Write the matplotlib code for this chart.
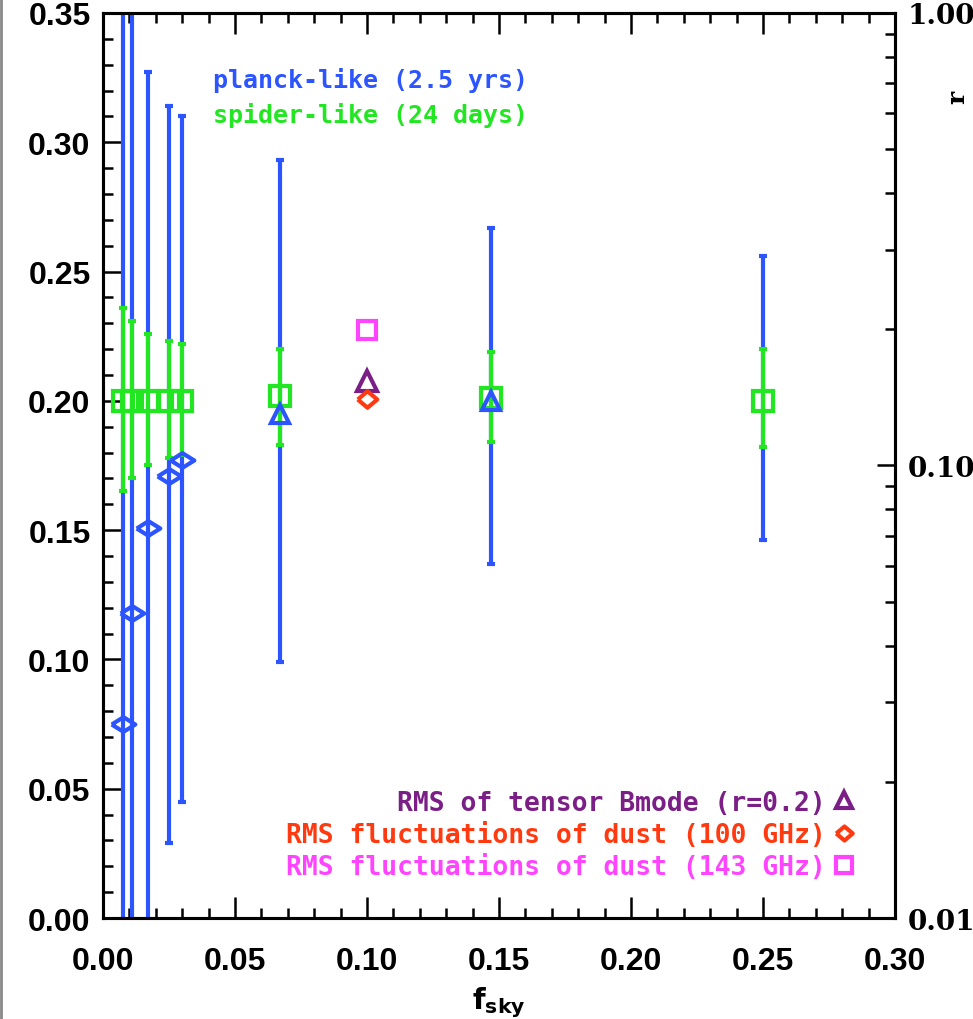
import numpy as np
import matplotlib
matplotlib.use('Agg')
import matplotlib.pyplot as plt
from matplotlib.lines import Line2D
from matplotlib.ticker import MultipleLocator, FixedLocator, NullFormatter

# planck-like (2.5 yrs) measurements
FSKY         = [0.0075, 0.011, 0.017, 0.025, 0.030, 0.067, 0.147, 0.25]
PLANCK_VAL   = [0.075, 0.118, 0.151, 0.171, 0.177, 0.195, 0.200, 0.200]
PLANCK_LO    = [-0.20, -0.20, -0.03, 0.029, 0.045, 0.099, 0.137, 0.146]
PLANCK_HI    = [0.40, 0.45, 0.327, 0.314, 0.310, 0.293, 0.267, 0.256]
PLANCK_MARK  = ['diamond'] * 5 + ['triangle', 'triangle', None]

# spider-like (24 days) measurements
SPIDER_VAL   = [0.200, 0.200, 0.200, 0.200, 0.200, 0.202, 0.201, 0.200]
SPIDER_LO    = [0.165, 0.170, 0.175, 0.178, 0.179, 0.183, 0.184, 0.182]
SPIDER_HI    = [0.236, 0.231, 0.226, 0.223, 0.222, 0.220, 0.219, 0.220]

# Reference RMS levels at fsky = 0.10
REF_FSKY     = 0.10
REF_LABELS   = ['RMS of tensor Bmode (r=0.2)',
                'RMS fluctuations of dust (100 GHz)',
                'RMS fluctuations of dust (143 GHz)']
REF_VALUES   = [0.2075, 0.2008, 0.2275]

BLUE    = '#2c55ff'
GREEN   = '#22e622'
PURPLE  = '#7b1f86'
RED     = '#ff3a10'
MAGENTA = '#ff44ff'

WIDE_DIAMOND = [(-1, 0), (0, 0.62), (1, 0), (0, -0.62), (-1, 0)]
DIAMOND      = [(-1, 0), (0, 0.85), (1, 0), (0, -0.85), (-1, 0)]

TEXT_FONT = {'family': 'DejaVu Sans Mono', 'weight': 'bold'}

if __name__ == '__main__':

    fig = plt.figure(figsize=(9.73, 10.2), dpi=100)
    ax  = fig.add_axes([0.1059, 0.0990, 0.8139, 0.8873])

    fsky = np.array(FSKY)
    pval = np.array(PLANCK_VAL)
    sval = np.array(SPIDER_VAL)

    # Planck error bars (blue) behind the spider ones (green)
    ax.errorbar(fsky, pval, yerr=[pval - np.array(PLANCK_LO), np.array(PLANCK_HI) - pval],
                fmt='none', ecolor=BLUE, elinewidth=3, capsize=3, capthick=3, zorder=2)
    ax.errorbar(fsky, sval, yerr=[sval - np.array(SPIDER_LO), np.array(SPIDER_HI) - sval],
                fmt='none', ecolor=GREEN, elinewidth=3, capsize=3, capthick=3, zorder=3)

    for x, y, m in zip(FSKY, PLANCK_VAL, PLANCK_MARK):
        if m == 'diamond':
            ax.plot(x, y, marker=WIDE_DIAMOND, ms=17, mfc='none', mec=BLUE, mew=3, zorder=5)
        elif m == 'triangle':
            ax.plot(x, y, marker='^', ms=13, mfc='none', mec=BLUE, mew=3, zorder=5)

    ax.plot(fsky, sval, ls='none', marker='s', ms=14, mfc='none', mec=GREEN, mew=3, zorder=4)

    # Reference RMS markers
    h1, = ax.plot(REF_FSKY, REF_VALUES[0], ls='none', marker='^', ms=14, mfc='none', mec=PURPLE, mew=3)
    h2, = ax.plot(REF_FSKY, REF_VALUES[1], ls='none', marker=DIAMOND, ms=14, mfc='none', mec=RED, mew=3)
    h3, = ax.plot(REF_FSKY, REF_VALUES[2], ls='none', marker='s', ms=13, mfc='none', mec=MAGENTA, mew=3)

    leg = ax.legend([h1, h2, h3], REF_LABELS, loc='lower right', bbox_to_anchor=(0.962, 0.030),
                    frameon=False, markerfirst=False, handlelength=0.8, handletextpad=0.3,
                    labelspacing=0.24, borderaxespad=0, numpoints=1, markerscale=0.85,
                    prop=dict(TEXT_FONT, size=19),
                    labelcolor=[PURPLE, RED, MAGENTA])

    ax.text(0.537, 0.926, 'planck-like (2.5 yrs)', color=BLUE, ha='right', va='center',
            transform=ax.transAxes, fontdict=TEXT_FONT, fontsize=18)
    ax.text(0.537, 0.888, 'spider-like (24 days)', color=GREEN, ha='right', va='center',
            transform=ax.transAxes, fontdict=TEXT_FONT, fontsize=18)

    ax.set_xlim(0.0, 0.30)
    ax.set_ylim(0.0, 0.35)
    ax.xaxis.set_major_locator(MultipleLocator(0.05))
    ax.xaxis.set_minor_locator(MultipleLocator(0.01))
    ax.yaxis.set_major_locator(MultipleLocator(0.05))
    ax.yaxis.set_minor_locator(MultipleLocator(0.01))
    ax.xaxis.set_major_formatter(plt.FuncFormatter(lambda v, p: '%.2f' % v))
    ax.yaxis.set_major_formatter(plt.FuncFormatter(lambda v, p: '%.2f' % v))

    ax.tick_params(which='both', direction='in', top=True, right=False, width=1.8)
    ax.tick_params(which='major', length=15)
    ax.tick_params(which='minor', length=7)
    ax.tick_params(axis='y', pad=9)
    ax.tick_params(axis='x', pad=20)
    for lab in ax.get_xticklabels() + ax.get_yticklabels():
        lab.set_fontfamily('Liberation Sans')
        lab.set_fontweight('bold')
        lab.set_fontsize(23)
    for sp in ax.spines.values():
        sp.set_linewidth(2.2)

    ax.set_xlabel(r'$\mathbf{f_{sky}}$', fontsize=21, labelpad=6)

    # Right-hand r axis (log)
    ax2 = ax.twinx()
    ax2.set_yscale('log')
    ax2.set_ylim(0.01, 1.0)
    ax2.yaxis.set_major_locator(FixedLocator([0.01, 0.1, 1.0]))
    ax2.set_yticklabels(['0.01', '0.10', '1.00'], fontfamily='DejaVu Serif', fontweight='bold', fontsize=20)
    ax2.yaxis.set_minor_formatter(NullFormatter())
    ax2.tick_params(which='both', direction='in', width=1.8, pad=9)
    ax2.tick_params(which='major', length=13)
    ax2.tick_params(which='minor', length=7)
    ax2.set_ylabel('r', rotation=90, fontfamily='DejaVu Serif', fontweight='bold', fontsize=18)
    ax2.yaxis.set_label_coords(1.064, 0.908)
    for sp in ax2.spines.values():
        sp.set_linewidth(2.2)

    # thin grey frame at the left edge of the screenshot
    fig.add_artist(Line2D([0.0015, 0.0015], [0, 1], color='#888888', lw=2, transform=fig.transFigure))

    fig.savefig('out.png', dpi=100)
